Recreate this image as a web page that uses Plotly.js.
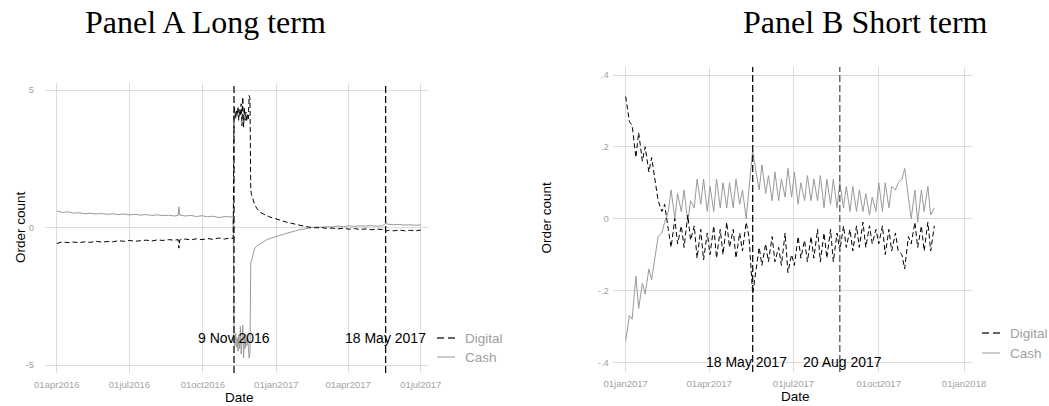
<!DOCTYPE html>
<html>
<head>
<meta charset="utf-8">
<script src="https://cdn.plot.ly/plotly-3.0.1.min.js"></script>
<style>
  html, body { margin: 0; padding: 0; background: #fff; }
  #chart { width: 1049px; height: 406px; }
</style>
</head>
<body>
<div id="chart"></div>
<script>
// ---------- Panel A: long term (daily order count deviations) ----------
const longDates = [
  '2016-04-01','2016-04-08','2016-04-15','2016-04-22','2016-04-29',
  '2016-05-06','2016-05-13','2016-05-20','2016-05-27',
  '2016-06-03','2016-06-10','2016-06-17','2016-06-24',
  '2016-07-01','2016-07-08','2016-07-15','2016-07-22','2016-07-29',
  '2016-08-05','2016-08-12','2016-08-19','2016-08-26','2016-08-31',
  '2016-09-01','2016-09-02','2016-09-09','2016-09-16','2016-09-23','2016-09-30',
  '2016-10-07','2016-10-14','2016-10-21','2016-10-28',
  '2016-11-04','2016-11-08',
  '2016-11-09','2016-11-10','2016-11-11','2016-11-12','2016-11-13','2016-11-14','2016-11-15',
  '2016-11-16','2016-11-17','2016-11-18','2016-11-19','2016-11-20','2016-11-21','2016-11-22',
  '2016-11-23','2016-11-24','2016-11-25','2016-11-26','2016-11-27','2016-11-28','2016-11-29',
  '2016-11-30','2016-12-01','2016-12-03','2016-12-05','2016-12-08','2016-12-12','2016-12-16',
  '2016-12-20','2016-12-24','2016-12-28',
  '2017-01-01','2017-01-05','2017-01-09','2017-01-13','2017-01-17','2017-01-21','2017-01-25','2017-01-29',
  '2017-02-02','2017-02-06','2017-02-10','2017-02-14','2017-02-19','2017-02-26',
  '2017-03-05','2017-03-12','2017-03-19','2017-03-26',
  '2017-04-02','2017-04-09','2017-04-16','2017-04-23','2017-04-30',
  '2017-05-07','2017-05-14','2017-05-18','2017-05-21','2017-05-28',
  '2017-06-04','2017-06-11','2017-06-18','2017-06-25','2017-07-01'
];
const longDigital = [
  -0.58,-0.52,-0.55,-0.53,-0.55, -0.52,-0.54,-0.50,-0.53, -0.51,-0.52,-0.48,-0.50,
  -0.47,-0.50,-0.48,-0.46,-0.49, -0.45,-0.47,-0.44,-0.46,-0.44,
  -0.75,-0.45,-0.42,-0.45,-0.41,-0.44,
  -0.40,-0.43,-0.38,-0.42,
  -0.38,-0.40,
  4.15,4.35,3.95,4.25,4.05,4.40,3.90,4.30,4.05,4.50,3.70,4.75,3.65,4.35,3.90,4.20,3.85,4.10,3.95,4.80,4.70,
  1.35,1.20,1.00,0.82,0.68,0.55,0.49,0.43,0.38,0.35,
  0.32,0.27,0.24,0.20,0.17,0.15,0.11,0.09,
  0.07,0.04,0.02,0.00,-0.01,0.00,
  -0.03,-0.02,-0.05,-0.03,
  -0.06,-0.04,-0.07,-0.05,-0.08,
  -0.06,-0.07,-0.15,-0.10,-0.12,
  -0.09,-0.12,-0.10,-0.12,-0.09
];
const longCash = [
  0.60,0.55,0.57,0.52,0.54, 0.50,0.52,0.49,0.51, 0.48,0.50,0.47,0.49,
  0.46,0.48,0.45,0.47,0.44, 0.46,0.43,0.45,0.42,0.44,
  0.75,0.45,0.42,0.44,0.40,0.43,
  0.39,0.41,0.36,0.40,
  0.37,0.38,
  -4.00,-4.30,-3.85,-4.35,-4.00,-4.50,-3.90,-4.40,-3.60,-4.60,-4.10,-3.55,-4.75,-4.00,-4.40,-3.90,-4.30,-4.00,-4.35,-4.75,-4.60,
  -1.30,-1.20,-0.95,-0.76,-0.66,-0.58,-0.50,-0.45,-0.40,-0.37,
  -0.34,-0.29,-0.26,-0.22,-0.18,-0.15,-0.12,-0.09,
  -0.07,-0.04,-0.02,0.00,0.02,0.01,
  0.03,0.02,0.05,0.03,
  0.06,0.04,0.06,0.05,0.07,
  0.05,0.06,0.15,0.12,0.10,
  0.11,0.09,0.10,0.08,0.10
];
const longTickVals = ['2016-04-01','2016-07-01','2016-10-01','2017-01-01','2017-04-01','2017-07-01'];
const longTickText = ['01apr2016','01jul2016','01oct2016','01jan2017','01apr2017','01jul2017'];
const longEvents = ['2016-11-09','2017-05-18'];
const longEventLabels = ['9 Nov 2016','18 May 2017'];

// ---------- Panel B: short term ----------
const shortDates = [
  '2017-01-01','2017-01-05','2017-01-08','2017-01-12','2017-01-15','2017-01-19','2017-01-22','2017-01-26',
  '2017-01-29','2017-02-02','2017-02-05','2017-02-09','2017-02-12','2017-02-16','2017-02-19','2017-02-23',
  '2017-02-26','2017-03-02','2017-03-05','2017-03-09','2017-03-12','2017-03-16','2017-03-19','2017-03-23',
  '2017-03-26','2017-03-30','2017-04-02','2017-04-06','2017-04-09','2017-04-13','2017-04-16','2017-04-20',
  '2017-04-23','2017-04-27','2017-04-30','2017-05-04','2017-05-07','2017-05-11','2017-05-14','2017-05-18',
  '2017-05-21','2017-05-25','2017-05-28','2017-06-01','2017-06-04','2017-06-08','2017-06-11','2017-06-15',
  '2017-06-18','2017-06-22','2017-06-25','2017-06-29','2017-07-02','2017-07-06','2017-07-09','2017-07-13',
  '2017-07-16','2017-07-20','2017-07-23','2017-07-27','2017-07-30','2017-08-03','2017-08-06','2017-08-10',
  '2017-08-13','2017-08-17','2017-08-20','2017-08-24','2017-08-27','2017-08-31','2017-09-03','2017-09-07',
  '2017-09-10','2017-09-14','2017-09-17','2017-09-21','2017-09-24','2017-09-28','2017-10-01','2017-10-05',
  '2017-10-08','2017-10-12','2017-10-15','2017-10-19','2017-10-22','2017-10-26','2017-10-29','2017-11-02',
  '2017-11-05','2017-11-09','2017-11-12','2017-11-16','2017-11-19','2017-11-23','2017-11-26','2017-11-30'
];
const shortDigital = [
  0.34,0.27,0.26,0.17,0.24,0.16,0.20,0.13,
  0.17,0.10,0.05,0.02,0.04,-0.03,-0.08,0.00,
  -0.07,-0.02,-0.08,0.01,-0.06,-0.02,-0.11,-0.03,
  -0.115,-0.04,-0.10,-0.02,-0.11,-0.03,-0.10,-0.01,
  -0.08,-0.03,-0.11,-0.04,-0.09,-0.01,-0.05,-0.21,
  -0.15,-0.08,-0.13,-0.07,-0.12,-0.05,-0.12,-0.08,
  -0.13,-0.04,-0.15,-0.10,-0.13,-0.05,-0.11,-0.06,
  -0.12,-0.05,-0.11,-0.03,-0.12,-0.04,-0.11,-0.03,
  -0.12,-0.04,-0.09,-0.02,-0.08,-0.03,-0.09,-0.02,
  -0.08,-0.01,-0.08,-0.02,-0.07,-0.03,-0.07,-0.02,
  -0.10,-0.03,-0.09,-0.04,-0.09,-0.10,-0.14,-0.05,
  -0.07,-0.01,-0.08,-0.02,-0.09,-0.01,-0.09,-0.02
];
const shortCash = [
  -0.34,-0.27,-0.28,-0.16,-0.25,-0.18,-0.21,-0.14,
  -0.17,-0.10,-0.05,-0.04,-0.01,0.02,0.08,0.00,
  0.07,0.02,0.08,-0.01,0.05,0.03,0.11,0.04,
  0.11,0.02,0.09,0.02,0.11,0.03,0.10,0.03,
  0.10,0.03,0.11,0.04,0.08,0.00,0.09,0.19,
  0.14,0.08,0.15,0.07,0.12,0.05,0.13,0.05,
  0.11,0.06,0.14,0.06,0.13,0.04,0.10,0.05,
  0.12,0.05,0.11,0.05,0.12,0.03,0.11,0.04,
  0.11,0.03,0.10,0.03,0.09,0.02,0.09,0.02,
  0.08,0.02,0.07,0.01,0.06,0.02,0.10,0.02,
  0.10,0.03,0.09,0.08,0.10,0.11,0.14,0.05,
  0.00,0.08,-0.01,0.08,0.02,0.09,0.01,0.03
];
const shortTickVals = ['2017-01-01','2017-04-01','2017-07-01','2017-10-01','2018-01-01'];
const shortTickText = ['01jan2017','01apr2017','01jul2017','01oct2017','01jan2018'];
const shortEvents = ['2017-05-18','2017-08-20'];
const shortEventLabels = ['18 May 2017','20 Aug 2017'];

// ---------- layout helpers (pixel -> paper fraction) ----------
const W = 1049, H = 406;
const px = x => x / W;
const py = y => 1 - y / H;

const SANS = 'Liberation Sans, Arial, Helvetica, sans-serif';
const SERIF = 'Liberation Serif, Times New Roman, serif';
const GRID = '#dcdcdc';
const TICK = '#a3a3a3';
const CASH = '#9a9a9a';

function xAxis(domain, range, vals, text, anchor) {
  return {
    type: 'date', domain, range, anchor,
    tickvals: vals, ticktext: text,
    showgrid: true, gridcolor: GRID, gridwidth: 1,
    zeroline: false, showline: false, ticks: '',
    ticklabelstandoff: 4,
    tickfont: { family: SANS, size: 9.5, color: TICK },
    fixedrange: true
  };
}
function yAxis(domain, range, vals, text, anchor, standoff) {
  return {
    domain, range, anchor,
    tickvals: vals, ticktext: text,
    showgrid: true, gridcolor: GRID, gridwidth: 1,
    zeroline: false, showline: false, ticks: '',
    ticklabelstandoff: standoff,
    tickfont: { family: SANS, size: 9.5, color: TICK },
    fixedrange: true
  };
}

const traces = [
  { x: longDates, y: longCash, xaxis: 'x', yaxis: 'y', mode: 'lines', name: 'Cash',
    line: { color: CASH, width: 1 } },
  { x: longDates, y: longDigital, xaxis: 'x', yaxis: 'y', mode: 'lines', name: 'Digital',
    line: { color: '#000', width: 1, dash: '5px,3px' } },
  { x: shortDates, y: shortCash, xaxis: 'x2', yaxis: 'y2', mode: 'lines', name: 'Cash',
    line: { color: CASH, width: 1 } },
  { x: shortDates, y: shortDigital, xaxis: 'x2', yaxis: 'y2', mode: 'lines', name: 'Digital',
    line: { color: '#000', width: 1, dash: '5px,3px' } }
];

const shapes = [];
const annotations = [];

// event lines
longEvents.forEach(d => shapes.push({
  type: 'line', xref: 'x', yref: 'y domain', x0: d, x1: d, y0: 0, y1: 1,
  line: { color: '#111', width: 1.3, dash: '7px,3px' }
}));
shortEvents.forEach((d, i) => shapes.push({
  type: 'line', xref: 'x2', yref: 'y2 domain', x0: d, x1: d, y0: 0, y1: 1,
  line: { color: i === 0 ? '#111' : '#555', width: 1.3, dash: '7px,3px' }
}));

// event labels
longEventLabels.forEach((t, i) => annotations.push({
  text: t, xref: 'x', yref: 'y', x: longEvents[i], y: -4, showarrow: false,
  xanchor: 'center', yanchor: 'middle', font: { family: SANS, size: 14, color: '#000' }
}));
const shortShift = [-6, 3];
shortEventLabels.forEach((t, i) => annotations.push({
  text: t, xref: 'x2', yref: 'y2', x: shortEvents[i], y: -0.4, showarrow: false,
  xshift: shortShift[i],
  xanchor: 'center', yanchor: 'middle', font: { family: SANS, size: 14, color: '#000' }
}));

// legend keys drawn beside each panel
function legend(x0, yDig, yCash) {
  shapes.push({ type: 'line', xref: 'paper', yref: 'paper',
    x0: px(x0), x1: px(x0 + 18), y0: py(yDig), y1: py(yDig),
    line: { color: '#333', width: 1.4, dash: '7px,4px' } });
  shapes.push({ type: 'line', xref: 'paper', yref: 'paper',
    x0: px(x0), x1: px(x0 + 18), y0: py(yCash), y1: py(yCash),
    line: { color: CASH, width: 1 } });
  annotations.push({ text: 'Digital', xref: 'paper', yref: 'paper', x: px(x0 + 26), y: py(yDig),
    xanchor: 'left', yanchor: 'middle', showarrow: false,
    font: { family: SANS, size: 13.5, color: '#a0a0a0' } });
  annotations.push({ text: 'Cash', xref: 'paper', yref: 'paper', x: px(x0 + 26), y: py(yCash),
    xanchor: 'left', yanchor: 'middle', showarrow: false,
    font: { family: SANS, size: 13.5, color: '#a0a0a0' } });
}
legend(437, 338, 357);
legend(982, 333, 353);

// panel titles and axis titles
function label(text, x, y, opts) {
  annotations.push(Object.assign({
    text, xref: 'paper', yref: 'paper', x: px(x), y: py(y),
    xanchor: 'center', yanchor: 'middle', showarrow: false,
    font: { family: SANS, size: 13.5, color: '#000' }
  }, opts || {}));
}
label('Panel A Long term', 205, 22, { font: { family: SERIF, size: 32, color: '#000' } });
label('Panel B Short term', 865.5, 22, { font: { family: SERIF, size: 32, color: '#000' } });
label('Order count', 20, 227, { textangle: -90 });
label('Order count', 545.5, 218, { textangle: -90 });
label('Date', 239, 397);
label('Date', 795, 396);

const layout = {
  width: W, height: H,
  margin: { l: 0, r: 0, t: 0, b: 0 },
  paper_bgcolor: '#fff', plot_bgcolor: '#fff',
  showlegend: false, hovermode: false,
  xaxis: xAxis([px(45), px(428)], ['2016-03-17 05:00', '2017-07-10 02:00'], longTickVals, longTickText, 'y'),
  yaxis: yAxis([py(373), py(83)], [-5.29, 5.255], [-5, 0, 5], ['-5', '0', '5'], 'x', 10),
  xaxis2: xAxis([px(612.9), px(972.1)], ['2016-12-18 05:00', '2018-01-09 17:00'], shortTickVals, shortTickText, 'y2'),
  yaxis2: yAxis([py(372), py(67)], [-0.427, 0.4223], [-0.4, -0.2, 0, 0.2, 0.4], ['-.4', '-.2', '0', '.2', '.4'], 'x2', 3),
  shapes, annotations
};

Plotly.newPlot('chart', traces, layout, { staticPlot: true, displayModeBar: false });
</script>
</body>
</html>
